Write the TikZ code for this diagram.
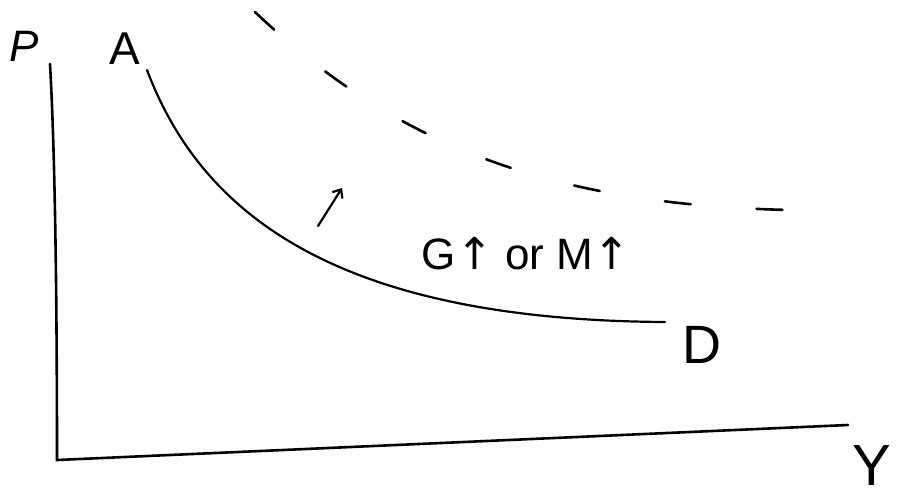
\documentclass[tikz,border=0pt]{standalone}
\usepackage{fontspec}
\setmainfont{Liberation Sans}
\newfontfamily\dv{DejaVu Sans}
\usetikzlibrary{arrows.meta}
\begin{document}
\begin{tikzpicture}[x=1pt,y=-1pt,
  pen/.style={line width=2.6pt,line cap=round,black},
  hand/.style={font=\fontsize{46}{46}\selectfont,inner sep=0pt,anchor=center}]
\useasboundingbox (0,0) rectangle (901,500);
% labels
\node[hand,font=\fontsize{44}{44}\selectfont] (P) at (24,46) {\textit{P}};
\node[hand] (A) at (125,49) {A};
\node[hand,font=\fontsize{54}{54}\selectfont] (D) at (702,345) {D};
\node[hand,font=\fontsize{58}{58}\selectfont] (Y) at (872,466) {Y};
\node[hand,font=\fontsize{44}{44}\selectfont] (lab) at (526,254) {G{\dv↑} or M{\dv↑}};
% axes
\coordinate (ytop) at (50,64);
\coordinate (origin) at (57,460);
\coordinate (xend) at (848,425);
\draw[pen] (ytop) .. controls (55,150) and (57,300) .. (origin) -- (xend);
% AD curve
\coordinate (a0) at (147,70);
\coordinate (d0) at (665,322);
\draw[pen,line width=2.2pt] (a0) .. controls (200,210) and (330,320) .. (d0);
% shifted curve (dashed)
\coordinate (s0) at (255,12);
\coordinate (s1) at (790,210);
\draw[pen,line width=2.6pt,dash pattern=on 26pt off 66pt] (s0) .. controls (400,150) and (560,205) .. (s1);
% shift arrow
\coordinate (ar0) at (318,226);
\coordinate (ar1) at (342,188);
\draw[pen,line width=2.2pt,-{Straight Barb[length=7pt,width=12pt]}] (ar0) -- (ar1);
\end{tikzpicture}
\end{document}
